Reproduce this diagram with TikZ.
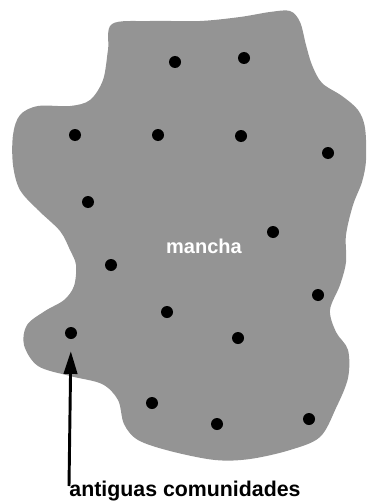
\documentclass[tikz,border=0pt]{standalone}
\usepackage{fontspec}
\setmainfont{Liberation Sans}
\usetikzlibrary{arrows.meta}

\begin{document}
\begin{tikzpicture}[
    x=0.75pt, y=-0.75pt,
    >={Triangle[length=17pt, width=10pt]},
    mota/.style={circle, fill=black, inner sep=0pt, minimum size=9pt},
    every node/.style={font=\bfseries}
]

% Frame
\useasboundingbox (0,0) rectangle (368,503);

% The patch
\fill[black!42] plot[smooth cycle, tension=0.55] coordinates {
    (112,24) (150,21) (200,21) (240,17) (270,12) (290,11) (300,22)
    (306,45) (312,65) (322,83) (342,96) (358,110) (365,128) (366,160)
    (362,182) (353,205) (346,235) (346,262) (340,285) (330,310)
    (336,332) (348,350) (348,378) (336,408) (320,437) (290,450)
    (250,459) (215,460) (170,451) (138,440) (124,424) (118,400)
    (102,384) (70,376) (38,366) (24,345) (27,325) (45,311) (64,300)
    (74,286) (76,265) (70,250) (60,231) (38,210) (20,190) (13,165)
    (13,135) (20,115) (38,106) (70,106) (90,100) (103,80) (108,50)
};

% Old communities
\foreach \x/\y/\n in {175/62/c1, 244/58/c2, 75/135/c3, 158/135/c4,
    241/136/c5, 328/153/c6, 88/202/c7, 273/232/c8, 111/265/c9,
    318/295/c10, 167/312/c11, 71/333/c12, 238/338/c13, 152/403/c14,
    217/424/c15, 309/419/c16}
    \node[mota] (\n) at (\x,\y) {};

% Labels
\node[white, anchor=base, font=\bfseries\fontsize{15}{18}\selectfont] (mancha) at (204,253) {mancha};
\node[anchor=base, font=\bfseries\fontsize{16}{19}\selectfont] (antiguas) at (185,496) {antiguas comunidades};

% Arrow
\coordinate (pie) at (69,486);
\draw[->, line width=2.2pt, shorten >=9pt] (pie) -- (c12.south);

\end{tikzpicture}
\end{document}
